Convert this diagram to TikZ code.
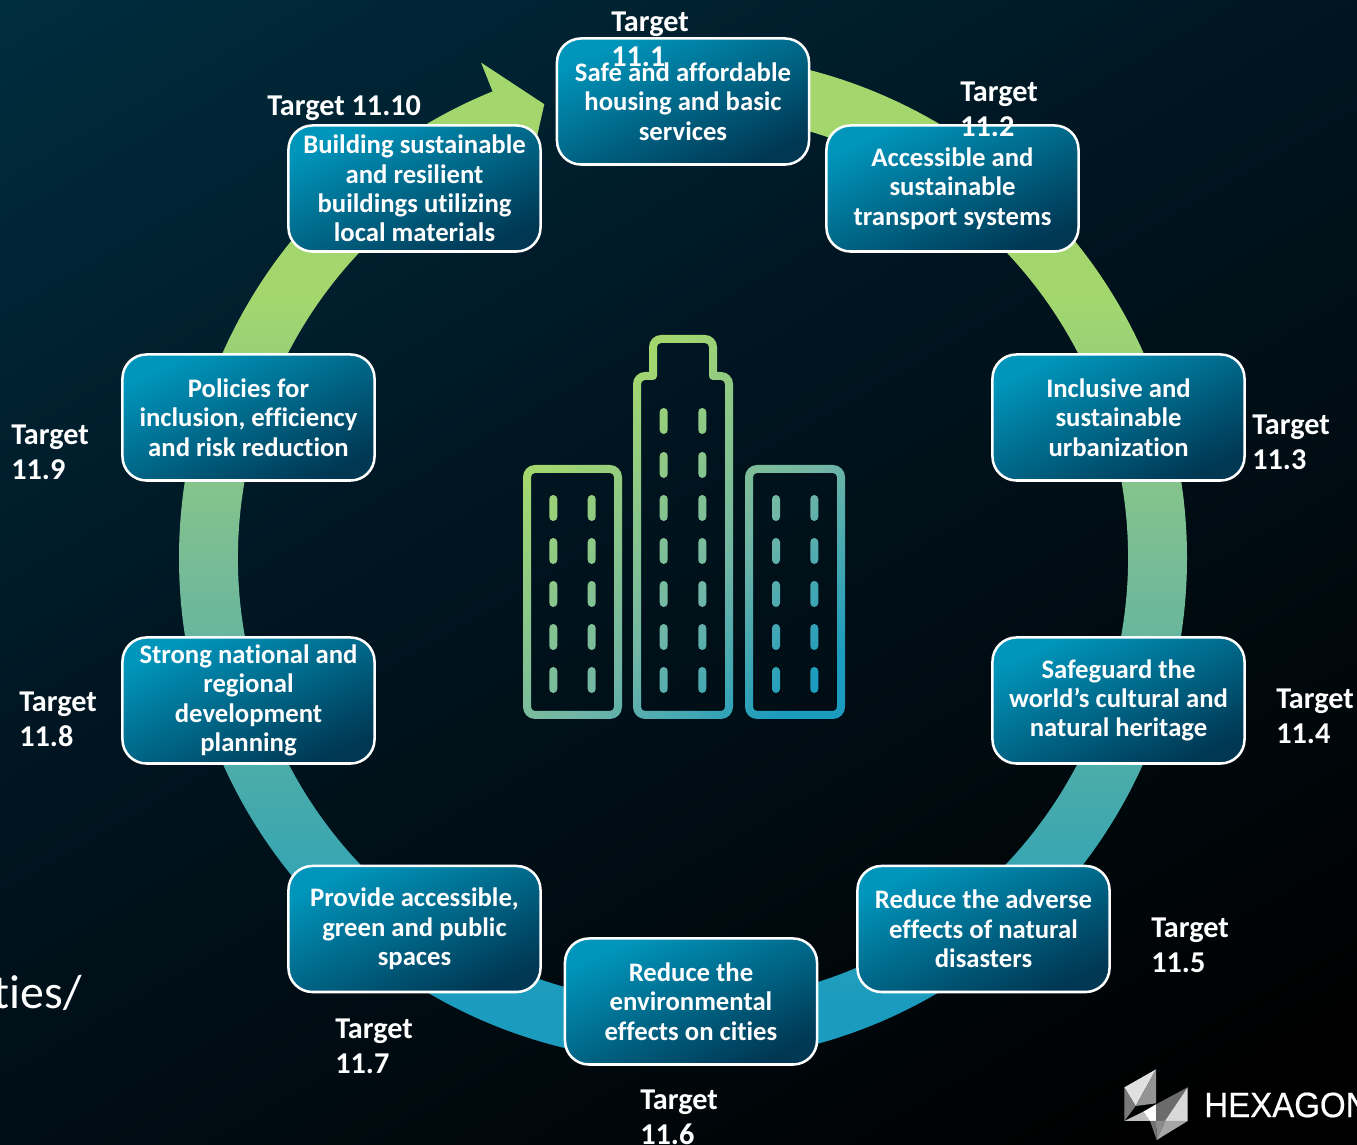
\documentclass[tikz,border=0pt]{standalone}
\usepackage{fontspec}
\setmainfont[Ligatures=NoCommon]{Carlito}
\newfontfamily\logofont[FakeStretch=0.94,FakeBold=0.5]{Liberation Sans}
\usetikzlibrary{positioning,calc}
\definecolor{hxGreen}{RGB}{163,215,110}
\definecolor{hxMid}{RGB}{120,188,150}
\definecolor{hxTowerMid}{RGB}{113,182,166}
\definecolor{hxBlue}{RGB}{27,155,190}
\definecolor{hxBoxTop}{RGB}{0,150,188}
\definecolor{hxBoxBot}{RGB}{0,56,84}
\definecolor{hxBackTop}{RGB}{0,54,74}
\definecolor{hxBackMid}{RGB}{0,22,34}
\pgfdeclareverticalshading{hxring}{100bp}{color(0bp)=(hxBlue); color(28bp)=(hxBlue); color(50bp)=(hxMid); color(63bp)=(hxGreen); color(100bp)=(hxGreen)}
\pgfdeclareverticalshading{hxback}{100bp}{color(0bp)=(black); color(30bp)=(black); color(55bp)=(hxBackMid); color(80bp)=(hxBackTop); color(100bp)=(hxBackTop)}
\pgfdeclareverticalshading{hxtower}{100bp}{color(0bp)=(hxBlue); color(41bp)=(hxBlue); color(50bp)=(hxTowerMid); color(62.5bp)=(hxGreen); color(100bp)=(hxGreen)}
\tikzset{
    base/.style={font=\fontsize{19}{20.9}\selectfont\bfseries, align=center, text=white},
    goalbox/.style={base, rectangle, rounded corners=0.6cm, draw=white, line width=1.8pt,
                    top color=hxBoxTop, bottom color=hxBoxBot, shading angle=25,
                    minimum width=6.3cm, minimum height=3.15cm, inner sep=0pt},
    target/.style={font=\fontsize{21.5}{24.9}\selectfont\bfseries, align=left, text=white,
                   anchor=north west, inner sep=0pt}
}
\begin{document}
\begin{tikzpicture}[x=0.025cm,y=0.025cm]
  \useasboundingbox (0,0) rectangle (1357,1145);
  \clip (0,0) rectangle (1357,1145);
  % background
  \shade[shading=hxback, shading angle=30] (-300,-300) rectangle (1657,1445);

  % ring with arrow head
  \coordinate (centre) at (683,587);
  \shade[shading=hxring] (683,587) ++(90:504) arc[start angle=90, end angle=-247.8, radius=504]
    -- ++(111.8:31) -- ($(centre)+(107:474.5)$) -- ($(centre)+(111.8:415)$) -- ($(centre)+(112.2:445)$)
    arc[start angle=112.2, end angle=450, radius=445] -- cycle;

  % building
  \begin{scope}[even odd rule]
    \clip
      [rounded corners=0.3cm] (523,426) rectangle (622,680)
      [rounded corners=0.1cm] (531,434) rectangle (614,672)
      [rounded corners=0.3cm] (745,426) rectangle (845,680)
      [rounded corners=0.1cm] (753,434) rectangle (837,672)
      [rounded corners=0.3cm] (633,426) -- (633,773) [sharp corners] -- (649,773) [rounded corners=0.3cm] -- (649,810) -- (717,810) [sharp corners] -- (717,773) [rounded corners=0.3cm] -- (733,773) -- (733,426) -- cycle
      [rounded corners=0.1cm] (641,434) -- (641,765) -- (657,765) -- (657,802) -- (709,802) -- (709,765) -- (725,765) -- (725,434) -- cycle
      [rounded corners=0.1cm]
      \foreach \y in {452,495,538,581,624} {
        (549.3,\y) rectangle (557.3,\y+26) (587.7,\y) rectangle (595.7,\y+26)
        (772,\y) rectangle (780,\y+26) (810.3,\y) rectangle (818.3,\y+26)
      }
      \foreach \y in {452,495,538,581,624,667,711} {
        (659.7,\y) rectangle (667.7,\y+26) (698.3,\y) rectangle (706.3,\y+26)
      };
    \shade[shading=hxtower, shading angle=45] (315,253) rectangle (1213,983);
  \end{scope}

  % target boxes
  \node[goalbox] (box1) at (683,1043.5) {Safe and affordable\\housing and basic\\services};
  \node[goalbox] (box2) at (952.5,956.5) {Accessible and\\sustainable\\transport systems};
  \node[goalbox] (box3) at (1118.5,727.5) {Inclusive and\\sustainable\\urbanization};
  \node[goalbox] (box4) at (1118.5,444.5) {Safeguard the\\world’s cultural and\\natural heritage};
  \node[goalbox] (box5) at (983.5,216) {Reduce the adverse\\effects of natural\\disasters};
  \node[goalbox] (box6) at (691,143.5) {Reduce the\\environmental\\effects on cities};
  \node[goalbox] (box7) at (414.5,216) {Provide accessible,\\green and public\\spaces};
  \node[goalbox] (box8) at (248.5,444.5) {Strong national and\\regional\\development\\planning};
  \node[goalbox] (box9) at (248.5,727.5) {Policies for\\inclusion, efficiency\\and risk reduction};
  \node[goalbox] (box10) at (414.5,956.5) {Building sustainable\\and resilient\\buildings utilizing\\local materials};

  % target labels
  \node[target] (label1) at (611,1133) {Target\\11.1};
  \node[target] (label2) at (960,1063) {Target\\11.2};
  \node[target] (label3) at (1252,730) {Target\\11.3};
  \node[target] (label4) at (1276,456) {Target\\11.4};
  \node[target] (label5) at (1151,227) {Target\\11.5};
  \node[target] (label6) at (640,55) {Target\\11.6};
  \node[target] (label7) at (335,126) {Target\\11.7};
  \node[target] (label8) at (19,453) {Target\\11.8};
  \node[target] (label9) at (11,720) {Target\\11.9};
  \node[target] (label10) at (267,1050) {Target 11.10};

  % title remainder
  \node[font=\fontsize{34}{40}\selectfont, text=white, anchor=east, inner sep=0pt] (title) at (82,152) {ties/};

  % logo
  \begin{scope}[shift={(1115,85)},x=0.00833cm,y=-0.00833cm]
    \fill[black!12] (123,28) -- (28,82) -- (62,138) -- cycle;
    \fill[black!42] (123,28) -- (62,138) -- (123,130) -- cycle;
    \fill[black!52] (28,82) -- (62,138) -- (28,183) -- cycle;
    \fill[black!25] (28,183) -- (85,155) -- (105,183) -- cycle;
    \fill[white] (85,155) -- (123,133) -- (123,183) -- (105,183) -- cycle;
    \fill[black!58] (123,133) -- (218,82) -- (150,183) -- (123,183) -- cycle;
    \fill[black!15] (218,82) -- (218,183) -- (150,183) -- cycle;
    \fill[black!55] (105,183) -- (123,183) -- (125,240) -- cycle;
    \fill[black!35] (218,183) -- (150,183) -- (125,240) -- cycle;
    \fill[black!45] (123,183) -- (150,183) -- (125,240) -- cycle;
  \end{scope}
  \node[font=\fontsize{25}{30}\selectfont\logofont, text=white, anchor=west, inner sep=0pt] (logo) at (1204,40) {HEXAGON};
\end{tikzpicture}
\end{document}
